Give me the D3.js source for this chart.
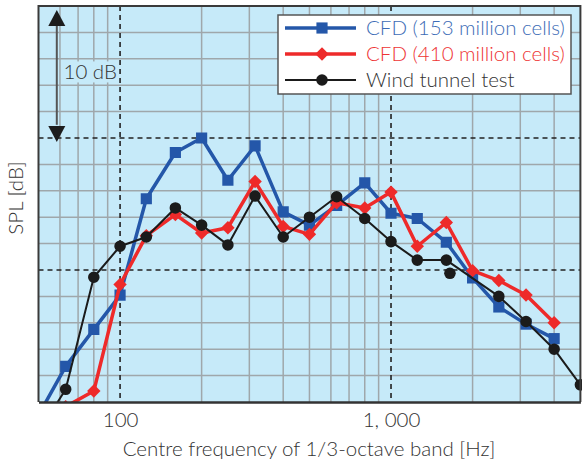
<!DOCTYPE html>
<html>
<head>
<meta charset="utf-8">
<script src="https://cdn.jsdelivr.net/npm/d3@7"></script>
<style>
	body { margin: 0; background: #fff; }
	text { font-family: 'Lato', 'Open Sans', sans-serif; font-weight: 300; }
</style>
</head>
<body>
<div id="draw"></div>
<script>
// 1/3-octave band centre frequencies [Hz]
const freqs = [50, 63, 80, 100, 125, 160, 200, 250, 315, 400, 500, 630, 800, 1000, 1250, 1600, 2000, 2500, 3150, 4000, 5000];

// SPL relative values [dB] (null = no point)
const cfd153 = [-1.0, 2.7, 5.5, 8.1, 15.4, 18.9, 20.0, 16.8, 19.4, 14.4, 13.4, 14.9, 16.6, 14.3, 13.9, 12.1, 9.4, 7.2, 5.9, 4.8, null];
const cfd410 = [null, -0.35, 0.83, 8.9, 12.6, 14.2, 12.8, 13.2, 16.7, 13.3, 12.7, 15.1, 14.7, 15.9, 11.8, 13.6, 9.95, 9.2, 8.1, 6.0, null];
const wind = [-2.3, 0.96, 9.45, 11.8, 12.5, 14.7, 13.4, 11.9, 15.6, 12.5, 14.0, 15.55, 13.9, 12.15, 10.75, 10.75, null, 8.0, 6.1, 4.0, 1.3];
// stray wind tunnel marker, off the line
const windStrayF = [1650];
const windStrayV = [9.75];

const xGrid = [60, 70, 80, 90, 200, 300, 400, 500, 600, 700, 800, 900, 2000, 3000, 4000];
const xDashed = [100, 1000];
const xTicks = [100, 1000];
const xTickLabels = ['100', '1, 000'];
const yGrid = [2, 4, 6, 8, 12, 14, 16, 18, 22, 24, 26, 28];
const yDashed = [10, 20];

const legendNames = ['CFD (153 million cells)', 'CFD (410 million cells)', 'Wind tunnel test'];

var width = 582, height = 463;
var margin = { top: 6, right: 2, bottom: 61, left: 38.5 };

var svg = d3
	.select('#draw')
	.append('svg')
	.attr('width', width)
	.attr('height', height);

var g = svg.append('g').attr('transform', 'translate(' + margin.left + ',' + margin.top + ')');

var x = d3.scaleLog().domain([50, 5000]).range([0, 541.9]);
var y = d3.scaleLinear().domain([0, 30]).range([396, 0]);

// background
g.append('rect')
	.attr('width', x(5000))
	.attr('height', y(0))
	.attr('fill', '#c6eaf9');

// grid
g.selectAll('.vgrid')
	.data(xGrid)
	.enter()
	.append('line')
	.attr('x1', (d) => x(d))
	.attr('x2', (d) => x(d))
	.attr('y1', 0)
	.attr('y2', y(0))
	.attr('stroke', '#9fa7ab')
	.attr('stroke-width', 1.5);

g.selectAll('.hgrid')
	.data(yGrid)
	.enter()
	.append('line')
	.attr('x1', 0)
	.attr('x2', x(5000))
	.attr('y1', (d) => y(d))
	.attr('y2', (d) => y(d))
	.attr('stroke', '#9fa7ab')
	.attr('stroke-width', 1.5);

g.selectAll('.vdash')
	.data(xDashed)
	.enter()
	.append('line')
	.attr('x1', (d) => x(d))
	.attr('x2', (d) => x(d))
	.attr('y1', 0)
	.attr('y2', y(0))
	.attr('stroke', '#222')
	.attr('stroke-width', 1.6)
	.attr('stroke-dasharray', '5,4');

g.selectAll('.hdash')
	.data(yDashed)
	.enter()
	.append('line')
	.attr('x1', 0)
	.attr('x2', x(5000))
	.attr('y1', (d) => y(d))
	.attr('y2', (d) => y(d))
	.attr('stroke', '#222')
	.attr('stroke-width', 1.6)
	.attr('stroke-dasharray', '5,4');

// 10 dB scale arrow
var ax = 18.3;
var tx = g.append('g');
tx.append('rect')
	.attr('x', 24)
	.attr('y', y(25.8))
	.attr('width', 56)
	.attr('height', 21)
	.attr('fill', '#c6eaf9');
tx.append('text')
	.attr('x', 25)
	.attr('y', y(25.8) + 18)
	.attr('font-size', 20.5)
	.attr('fill', '#333')
	.text('10 dB');
g.append('line')
	.attr('x1', ax)
	.attr('x2', ax)
	.attr('y1', y(28.5))
	.attr('y2', y(21))
	.attr('stroke', '#555')
	.attr('stroke-width', 2);
g.append('path')
	.attr('d', 'M' + ax + ',' + y(29.7) + 'l-8.5,16h17z')
	.attr('fill', '#1d1d1d');
g.append('path')
	.attr('d', 'M' + ax + ',' + (y(20) + 4) + 'l-8.5,-16h17z')
	.attr('fill', '#1d1d1d');

// series
g.append('clipPath')
	.attr('id', 'clip')
	.append('rect')
	.attr('x', 0)
	.attr('y', 0)
	.attr('width', x(5000) + 10)
	.attr('height', y(0));

var plot = g.append('g').attr('clip-path', 'url(#clip)');

const series = [
	{ vals: cfd153, color: '#2457a9', width: 3.5, shape: d3.symbolSquare, size: 125, rot: 0 },
	{ vals: cfd410, color: '#ee2a2a', width: 3.5, shape: d3.symbolSquare, size: 90, rot: 45 },
	{ vals: wind, color: '#1b1b1b', width: 2, shape: d3.symbolCircle, size: 105, rot: 0 },
];

var line = d3
	.line()
	.x((d) => x(d.f))
	.y((d) => y(d.v));

series.forEach(function (s) {
	var pts = freqs
		.map((f, i) => ({ f: f, v: s.vals[i] }))
		.filter((d) => d.v !== null);
	plot.append('path')
		.datum(pts)
		.attr('d', line)
		.attr('fill', 'none')
		.attr('stroke', s.color)
		.attr('stroke-width', s.width)
		.attr('stroke-linejoin', 'round');
	plot.selectAll(null)
		.data(pts)
		.enter()
		.append('path')
		.attr('transform', (d) => 'translate(' + x(d.f) + ',' + y(d.v) + ') rotate(' + s.rot + ')')
		.attr('d', d3.symbol().type(s.shape).size(s.size))
		.attr('fill', s.color);
});

plot.selectAll(null)
	.data(windStrayF)
	.enter()
	.append('circle')
	.attr('cx', (d) => x(d))
	.attr('cy', (d, i) => y(windStrayV[i]))
	.attr('r', 5.8)
	.attr('fill', '#1b1b1b');

// frame
g.append('path')
	.attr('d', 'M0,' + y(0) + 'V0H' + x(5000) + 'V' + y(0))
	.attr('fill', 'none')
	.attr('stroke', '#3a3a3a')
	.attr('stroke-width', 2);

// x axis
var xAxis = g
	.append('g')
	.attr('transform', 'translate(0,' + y(0) + ')')
	.call(
		d3
			.axisBottom(x)
			.tickValues(xTicks)
			.tickFormat((d, i) => xTickLabels[i])
			.tickSize(0)
			.tickPadding(10)
	);
xAxis.select('.domain').attr('stroke', '#333').attr('stroke-width', 2.5);
xAxis.selectAll('text')
	.attr('font-size', 20.5)
	.attr('fill', '#333')
	.style('font-family', "'Lato', sans-serif")
	.style('font-weight', 300);

// axis titles
svg.append('text')
	.attr('x', 309)
	.attr('y', 456)
	.attr('text-anchor', 'middle')
	.attr('font-size', 20.5)
	.attr('fill', '#333')
	.text('Centre frequency of 1/3-octave band [Hz]');

svg.append('text')
	.attr('transform', 'translate(23,198) rotate(-90)')
	.attr('text-anchor', 'middle')
	.attr('font-size', 20.5)
	.attr('fill', '#333')
	.text('SPL [dB]');

// legend
var lg = svg.append('g').attr('transform', 'translate(278,15)');
lg.append('rect')
	.attr('width', 293)
	.attr('height', 79)
	.attr('fill', '#fff')
	.attr('stroke', '#555')
	.attr('stroke-width', 1.5);

const legendText = ['#3d6cb6', '#ee3535', '#333'];
series.forEach(function (s, i) {
	var ly = 13 + i * 26;
	lg.append('line')
		.attr('x1', 7)
		.attr('x2', 78)
		.attr('y1', ly)
		.attr('y2', ly)
		.attr('stroke', s.color)
		.attr('stroke-width', s.width);
	lg.append('path')
		.attr('transform', 'translate(44,' + ly + ') rotate(' + s.rot + ')')
		.attr('d', d3.symbol().type(s.shape).size(s.size))
		.attr('fill', s.color);
	lg.append('text')
		.attr('x', 88)
		.attr('y', ly + 7)
		.attr('font-size', 20.5)
		.attr('fill', legendText[i])
		.text(legendNames[i]);
});
</script>
</body>
</html>
